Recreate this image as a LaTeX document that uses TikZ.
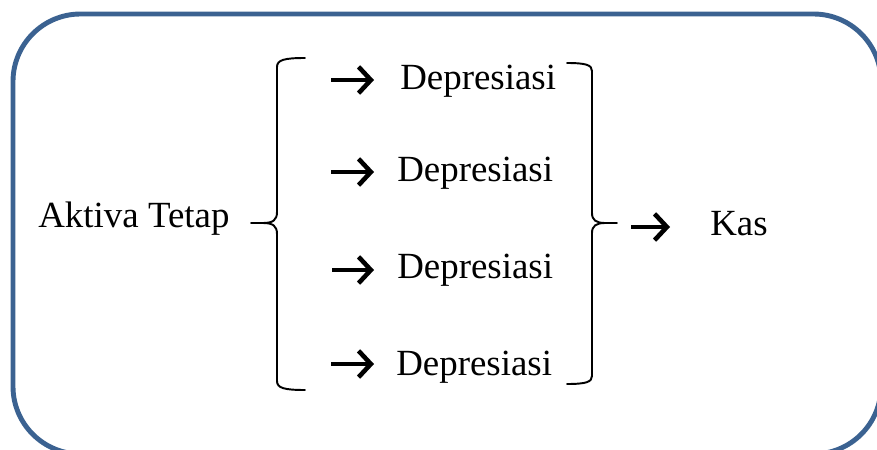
\documentclass[tikz,border=0pt]{standalone}
\usepackage{xcolor}
\usepackage{fontspec}
\setmainfont{Liberation Serif}
\usetikzlibrary{arrows.meta}
\definecolor{Frame}{HTML}{3B6291}
\tikzset{
  lbl/.style={inner sep=0pt, anchor=base west, font=\fontsize{21}{25}\selectfont},
  bigarrow/.style={line width=2.6pt, -{Straight Barb[length=7pt,width=15pt,line width=2.6pt]}},
  brace/.style={line width=1.1pt, line cap=round},
}

\begin{document}
\begin{tikzpicture}[x=0.02cm, y=-0.02cm]%
\useasboundingbox (0,0) rectangle (877,450);%
\draw[line width=2.8pt, color=Frame, rounded corners=1.35cm] (13,14) rectangle (881,454);%
% labels
\node[lbl] (aktiva) at (38,227) {Aktiva Tetap};%
\node[lbl] (dep1) at (400,89) {Depresiasi};%
\node[lbl] (dep2) at (397,181) {Depresiasi};%
\node[lbl] (dep3) at (397,278) {Depresiasi};%
\node[lbl] (dep4) at (396,375) {Depresiasi};%
\node[lbl] (kas) at (710,235) {Kas};%
% arrow ends
\coordinate (s1) at (331,80); \coordinate (e1) at (374,80);%
\coordinate (s2) at (331,172); \coordinate (e2) at (374,172);%
\coordinate (s3) at (332,270); \coordinate (e3) at (374,270);%
\coordinate (s4) at (331,364); \coordinate (e4) at (374,364);%
\coordinate (sk) at (631,227); \coordinate (ek) at (670,227);%
\draw[bigarrow] (s1) -- (e1);%
\draw[bigarrow] (s2) -- (e2);%
\draw[bigarrow] (s3) -- (e3);%
\draw[bigarrow] (s4) -- (e4);%
\draw[bigarrow] (sk) -- (ek);%
% left brace
\draw[brace] (305,58) .. controls (284,58) and (277,60) .. (277,67) -- (277,212) .. controls (277,220) and (273,223) .. (263,223) -- (251,223);%
\draw[brace] (263,223) .. controls (273,223) and (277,226) .. (277,234) -- (277,381) .. controls (277,388) and (284,390) .. (305,390);%
% right brace
\draw[brace] (567,63) .. controls (586,63) and (592,65) .. (592,71) -- (592,213) .. controls (592,220) and (596,223) .. (605,223) -- (617,223);%
\draw[brace] (605,223) .. controls (596,223) and (592,226) .. (592,233) -- (592,376) .. controls (592,382) and (586,384) .. (567,384);%
\end{tikzpicture}
\end{document}
